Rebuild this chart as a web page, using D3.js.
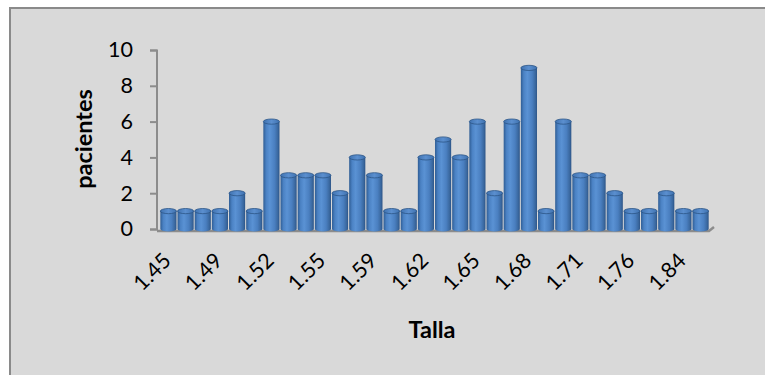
<!DOCTYPE html>
<html>
<head>
<meta charset="utf-8">
<script src="https://cdn.jsdelivr.net/npm/d3@7"></script>
<style>
  html, body { margin: 0; padding: 0; background: #ffffff; }
  svg { display: block; }
  text { font-family: Lato, "Open Sans", sans-serif; fill: #000; }
</style>
</head>
<body>
<svg id="chart" width="765" height="375"></svg>
<script>
// Height classes (m) and number of patients in each
const tallas = ["1.45","1.46","1.47","1.49","1.50","1.51","1.52","1.53","1.54","1.55","1.56","1.57","1.59","1.60","1.61","1.62","1.63","1.64","1.65","1.66","1.67","1.68","1.69","1.70","1.71","1.72","1.74","1.76","1.78","1.80","1.84","1.85"];
const pacientes = [1,1,1,1,2,1,6,3,3,3,2,4,3,1,1,4,5,4,6,2,6,9,1,6,3,3,2,1,1,2,1,1];
const yTicks = [0, 2, 4, 6, 8, 10];
const labelEvery = 3;
const xTitle = "Talla";
const yTitle = "pacientes";

const svg = d3.select("#chart");

// Chart area background with frame
svg.append("rect")
  .attr("x", 10).attr("y", 8)
  .attr("width", 770).attr("height", 380)
  .attr("fill", "#d9d9d9")
  .attr("stroke", "#8a8a8a").attr("stroke-width", 2);

const x = d3.scaleBand()
  .domain(d3.range(pacientes.length))
  .range([160, 709])
  .paddingInner(0.06)
  .paddingOuter(0.02);

const y = d3.scaleLinear().domain([0, 10]).range([229, 50]);

// Cylinder shading
const defs = svg.append("defs");
const grad = defs.append("linearGradient").attr("id", "cyl")
  .attr("x1", "0%").attr("x2", "100%").attr("y1", "0%").attr("y2", "0%");
[["0%", "#2f5d94"], ["18%", "#4b82c4"], ["40%", "#5a92d4"], ["70%", "#4a7fc0"], ["90%", "#3a689f"], ["100%", "#2b5386"]]
  .forEach(([o, c]) => grad.append("stop").attr("offset", o).attr("stop-color", c));
const gradTop = defs.append("linearGradient").attr("id", "cylTop")
  .attr("x1", "0%").attr("x2", "100%");
[["0%", "#3f72b0"], ["50%", "#5b8fcf"], ["100%", "#3f72b0"]]
  .forEach(([o, c]) => gradTop.append("stop").attr("offset", o).attr("stop-color", c));

// Floor
svg.append("path")
  .attr("d", `M157,231 L709,231 L714,227`)
  .attr("fill", "none").attr("stroke", "#8c8c8c").attr("stroke-width", 2.5);

// Y axis
const yAxis = d3.axisLeft(y).tickValues(yTicks).tickSize(7).tickPadding(17);
const gy = svg.append("g").attr("transform", "translate(157,0)").call(yAxis);
gy.select(".domain").attr("stroke", "#8c8c8c").attr("stroke-width", 2).attr("d", "M-7,50.5H0V229.5H-7");
gy.selectAll(".tick line").attr("stroke", "#8c8c8c").attr("stroke-width", 2);
gy.selectAll(".tick text").style("font-size", "21.5px").style("font-family", "Lato, sans-serif").attr("fill", "#000");

// Bars drawn as cylinders
const ry = 2.6;
const bars = svg.append("g").selectAll("g").data(pacientes).join("g");
bars.append("path")
  .attr("d", (d, i) => {
    const x0 = x(i), w = x.bandwidth(), top = y(d), bot = y(0);
    return `M${x0},${top} L${x0},${bot} A${w / 2},${ry} 0 0 0 ${x0 + w},${bot} L${x0 + w},${top} Z`;
  })
  .attr("fill", "url(#cyl)");
bars.append("ellipse")
  .attr("cx", (d, i) => x(i) + x.bandwidth() / 2)
  .attr("cy", d => y(d))
  .attr("rx", x.bandwidth() / 2)
  .attr("ry", ry)
  .attr("fill", "url(#cylTop)")
  .attr("stroke", "#2c5687").attr("stroke-width", 0.8);

// X tick labels, rotated
svg.append("g").selectAll("text")
  .data(tallas.map((t, i) => ({ t, i })).filter(d => d.i % labelEvery === 0))
  .join("text")
  .attr("transform", d => `translate(${x(d.i) + x.bandwidth() / 2 + 4},${262}) rotate(-45)`)
  .attr("text-anchor", "end")
  .style("font-size", "21.5px")
  .text(d => d.t);

// Axis titles
svg.append("text")
  .attr("x", 432).attr("y", 338)
  .attr("text-anchor", "middle")
  .style("font-size", "23.5px").style("font-weight", "bold")
  .text(xTitle);
svg.append("text")
  .attr("transform", "translate(92,139) rotate(-90)")
  .attr("text-anchor", "middle")
  .style("font-size", "23.5px").style("font-weight", "bold")
  .text(yTitle);
</script>
</body>
</html>
